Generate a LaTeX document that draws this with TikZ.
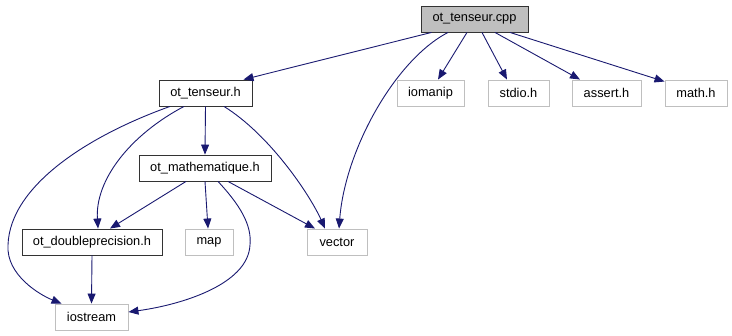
\documentclass[tikz,border=0pt]{standalone}
\usepackage{fontspec}
\setmainfont{Liberation Sans}
\usetikzlibrary{arrows.meta}
\definecolor{edgec}{HTML}{191970}
\definecolor{grayb}{HTML}{BFBFBF}
\tikzset{
  base/.style={draw, line width=0.9pt, minimum height=26pt, inner sep=0pt, font=\fontsize{12.8}{14}\selectfont, anchor=center},
  localh/.style={base, draw=black!80},
  sysh/.style={base, draw=grayb},
  mainf/.style={base, draw=black!80, fill=grayb},
  dep/.style={draw=edgec, line width=0.9pt, -{Triangle[length=10pt,width=8pt]}, fill=none},
}
\begin{document}
\begin{tikzpicture}[x=1pt,y=-1pt]
\useasboundingbox (0,0) rectangle (732,336);
\node[mainf, minimum width=107pt] (cpp) at (474.5,19) {ot\_tenseur.cpp};
\node[sysh, minimum width=67pt] (iomanip) at (430.5,93) {iomanip};
\node[sysh, minimum width=61pt] (stdio) at (518.5,93) {stdio.h};
\node[sysh, minimum width=69pt] (assert) at (606.5,93) {assert.h};
\node[sysh, minimum width=62pt] (math) at (696,93) {math.h};
\node[localh, minimum width=93pt] (tensh) at (205.5,93) {ot\_tenseur.h};
\node[localh, minimum width=132pt] (mat) at (205,168) {ot\_mathematique.h};
\node[localh, minimum width=140pt] (dp) at (92,242) {ot\_doubleprecision.h};
\node[sysh, minimum width=48pt] (map) at (209,242) {map};
\node[sysh, minimum width=60pt] (vector) at (337,242) {vector};
\node[sysh, minimum width=73pt] (ios) at (91.5,317) {iostream};

\draw[dep] ([xshift=-43pt]cpp.south) -- ([xshift=38pt]tensh.north);
\draw[dep] ([xshift=-7.5pt]cpp.south) -- ([xshift=7.5pt]iomanip.north);
\draw[dep] ([xshift=7.5pt]cpp.south) -- ([xshift=-11.5pt]stdio.north);
\draw[dep] ([xshift=20.5pt]cpp.south) -- ([xshift=-26.5pt]assert.north);
\draw[dep] ([xshift=35.5pt]cpp.south) -- ([yshift=-2pt]math.north west);
\draw[dep] ([xshift=-26.5pt]cpp.south) .. controls (395,60) and (345,150) .. ([xshift=2pt]vector.north);

\draw[dep] (tensh.south) -- (mat.north);
\draw[dep] ([xshift=-35.5pt]tensh.south) .. controls (90,135) and (10,185) .. (8,245) .. controls (6,275) and (40,295) .. ([xshift=7pt]ios.north west);
\draw[dep] ([xshift=-21.5pt]tensh.south) .. controls (130,135) and (95,180) .. ([xshift=6pt]dp.north);
\draw[dep] ([xshift=18.5pt]tensh.south) .. controls (270,135) and (310,195) .. ([xshift=-12pt]vector.north);

\draw[dep] ([xshift=-19pt]mat.south) -- ([xshift=18pt]dp.north);
\draw[dep] (mat.south) -- ([xshift=-1pt]map.north);
\draw[dep] ([xshift=23pt]mat.south) -- ([xshift=-22pt]vector.north);
\draw[dep] ([xshift=13pt]mat.south) .. controls (240,205) and (252,225) .. (250,245) .. controls (248,285) and (180,305) .. ([yshift=5pt]ios.east);

\draw[dep] (dp.south) -- (ios.north);
\end{tikzpicture}
\end{document}
